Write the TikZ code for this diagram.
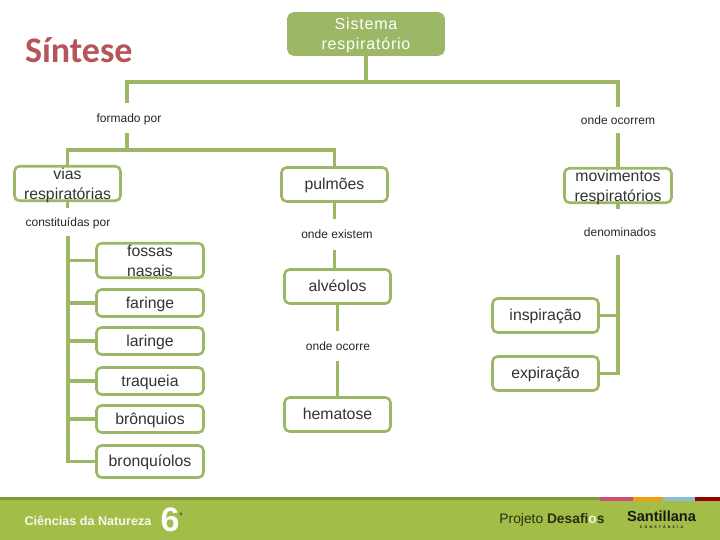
\documentclass[tikz,border=0pt]{standalone}
\usepackage{fontspec}
\setmainfont{Liberation Sans}
\newfontfamily\titlefont{Carlito}
\usepackage{tikz}

\definecolor{mapgreen}{HTML}{9CB765}
\definecolor{bandgreen}{HTML}{A2BD48}
\definecolor{titlered}{HTML}{B5545A}

\tikzset{
  box/.style={draw=mapgreen, line width=2.6pt, rounded corners=5pt, fill=white, inner sep=0pt,
    align=center, font=\fontsize{15.8}{19.5}\selectfont, text=black!80},
  onebox/.style={box, text height=12.5pt, text depth=2.5pt},
  twobox/.style={box, text height=33pt, text depth=1.5pt},
  linker/.style={inner sep=0pt, minimum height=30pt, text height=10.5pt, text depth=1.5pt,
    font=\fontsize{12}{14}\selectfont, text=black!85},
  link/.style={draw=mapgreen, line width=3.4pt}
}

\begin{document}
\begin{tikzpicture}[x=1pt,y=-1pt]
  \useasboundingbox (0,0) rectangle (720,540);

  % footer band
  \fill[bandgreen] (0,498) rectangle (720,540);
  \fill[bandgreen!80!black] (0,497) rectangle (720,500);
  \fill[purple!70!white] (600,497) rectangle (633,501);
  \fill[orange!70!yellow!80!brown] (633,497) rectangle (663,501);
  \fill[cyan!50!gray!70] (663,497) rectangle (695,501);
  \fill[red!60!black] (695,497) rectangle (720,501);
  \node[text=white!90!bandgreen, font=\fontsize{12.6}{14}\selectfont\bfseries] (curso) at (88,521) {Ciências da Natureza};
  \node[text=white, font=\fontsize{34}{36}\selectfont\bfseries] (ano) at (170,520) {6};
  \node[text=black!70, font=\fontsize{8}{9}\selectfont\bfseries] (anoa) at (181,516) {º};
  \node[text=black!75!bandgreen, font=\fontsize{13.8}{15}\selectfont] (projeto) at (552,520)
    {Projeto \textbf{Desafi{\color{white!80!bandgreen}o}s}};
  \node[text=black!90, font=\fontsize{14.6}{16}\selectfont\bfseries] (santillana) at (661.5,516) {Santillana};
  \node[text=black!90, font=\fontsize{3.6}{4}\selectfont\bfseries\addfontfeature{LetterSpace=60}] (constancia) at (661.5,527) {CONSTÂNCIA};

  \node[text=titlered, font=\fontsize{36}{40}\selectfont\bfseries\titlefont, anchor=west] (titulo) at (21.5,50) {Síntese};

  % boxes
  \node[twobox, fill=mapgreen, text=white, minimum width=155pt, minimum height=41pt,
    font=\fontsize{16}{20}\selectfont\addfontfeature{LetterSpace=5}] (sistema) at (366,34) {Sistema\\respiratório};

  \node[twobox, minimum width=106pt, minimum height=34pt] (vias) at (67.5,183.5) {vias\\respiratórias};
  \node[onebox, minimum width=106pt, minimum height=34pt] (pulmoes) at (334.5,184.5) {pulmões};
  \node[twobox, minimum width=107pt, minimum height=34pt] (movimentos) at (618,185.5) {movimentos\\respiratórios};

  \node[twobox, minimum width=107pt, minimum height=34pt] (fossas) at (150,260.5) {fossas\\nasais};
  \node[onebox, minimum width=107pt, minimum height=27pt] (faringe) at (150,303) {faringe};
  \node[onebox, minimum width=107pt, minimum height=27pt] (laringe) at (150,341) {laringe};
  \node[onebox, minimum width=107pt, minimum height=27pt] (traqueia) at (150,381) {traqueia};
  \node[onebox, minimum width=107pt, minimum height=27pt] (bronquios) at (150,419) {brônquios};
  \node[onebox, minimum width=107pt, minimum height=32pt] (bronquiolos) at (150,461.5) {bronquíolos};

  \node[onebox, minimum width=106pt, minimum height=34pt] (alveolos) at (337.5,286.5) {alvéolos};
  \node[onebox, minimum width=106pt, minimum height=34pt] (hematose) at (337.5,414.5) {hematose};
  \node[onebox, minimum width=106pt, minimum height=34pt] (inspiracao) at (545.5,315.5) {inspiração};
  \node[onebox, minimum width=106pt, minimum height=34pt] (expiracao) at (545.5,373.5) {expiração};

  % linking words
  \node[linker] (formado) at (129,118) {formado por};
  \node[linker, minimum height=26pt] (ocorrem) at (618,120) {onde ocorrem};
  \node[linker, minimum height=28pt] (constituidas) at (68,222) {constituídas por};
  \node[linker] (existem) at (337,234.5) {onde existem};
  \node[linker] (ocorre) at (338,346) {onde ocorre};
  \node[linker, minimum height=45pt] (denominados) at (620,232) {denominados};

  % connectors
  \coordinate (topbar) at (366,82);
  \coordinate (midbar) at (127,150);
  \coordinate (vtrunk) at (68,236);
  \coordinate (dtrunk) at (618,255);

  \draw[link] (sistema.south) -- (topbar);
  \draw[link] (formado.north -| midbar) |- (topbar) -| (ocorrem.north -| movimentos.north);
  \draw[link] (formado.south -| midbar) -- (midbar);
  \draw[link] (vias.north) |- (midbar) -| (pulmoes.north);
  \draw[link] (ocorrem.south -| movimentos.north) -- (movimentos.north);

  \draw[link] (vias.south) -- (vias.south |- constituidas.north);
  \draw[link] (vtrunk) |- (bronquiolos.west);
  \foreach \n in {fossas,faringe,laringe,traqueia,bronquios}
    \draw[link] (vtrunk |- \n.west) -- (\n.west);

  \draw[link] (pulmoes.south) -- (pulmoes.south |- existem.north);
  \draw[link] (alveolos.north -| pulmoes.south) -- (pulmoes.south |- existem.south);
  \draw[link] (alveolos.south) -- (alveolos.south |- ocorre.north);
  \draw[link] (hematose.north) -- (alveolos.south |- ocorre.south);

  \draw[link] (movimentos.south) -- (movimentos.south |- denominados.north);
  \draw[link] (dtrunk) |- (expiracao.east);
  \draw[link] (dtrunk |- inspiracao.east) -- (inspiracao.east);
\end{tikzpicture}
\end{document}
